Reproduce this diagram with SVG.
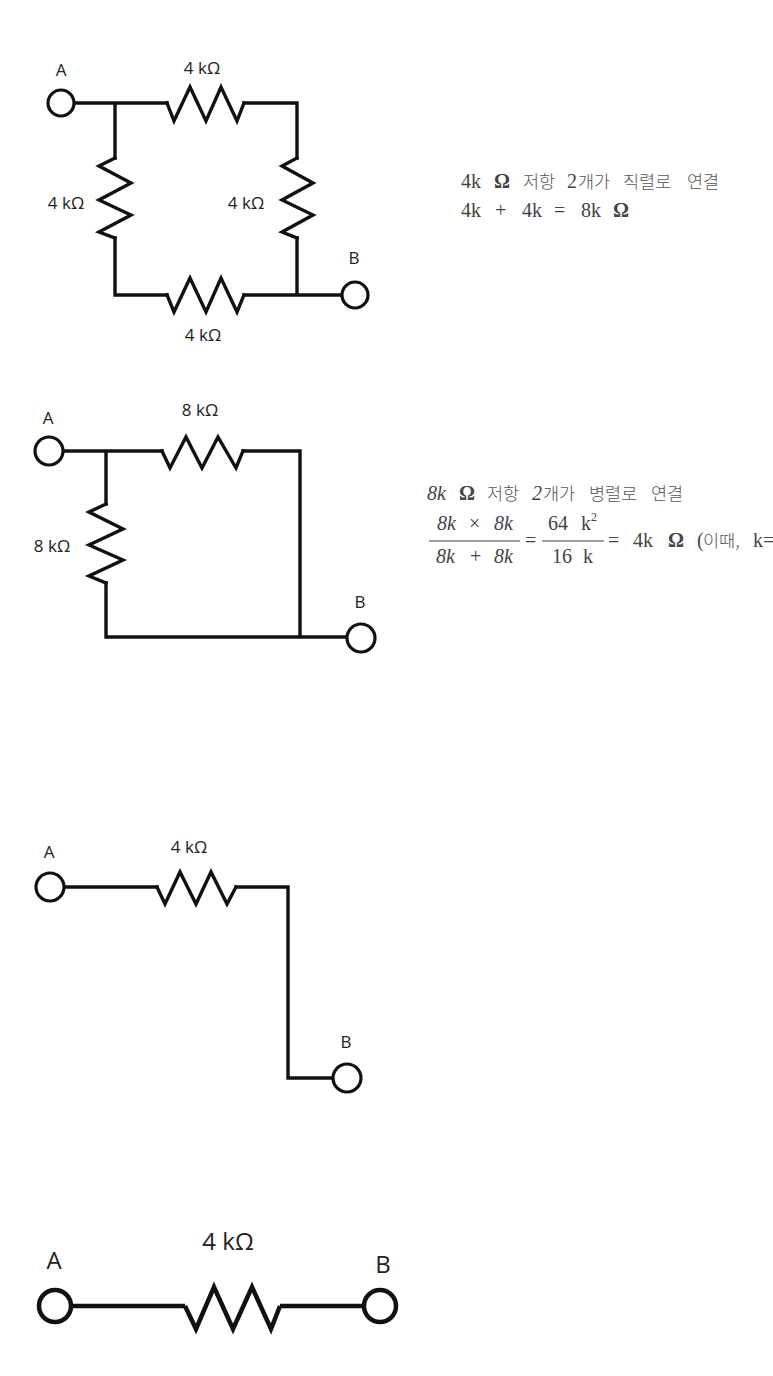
<svg xmlns="http://www.w3.org/2000/svg" width="773" height="1376" viewBox="0 0 773 1376">
<style>
.w{fill:none;stroke:#111;stroke-width:3.4;stroke-linejoin:miter;stroke-linecap:square}
.w4{fill:none;stroke:#111;stroke-width:4.5;stroke-linejoin:miter;stroke-linecap:butt}
.t{fill:#fff;stroke:#111;stroke-width:3.2}
.t4{fill:#fff;stroke:#111;stroke-width:4.5}
.l{font-family:"Open Sans","Noto Sans",sans-serif;font-size:17px;fill:#222;text-anchor:middle}
.l2{font-family:"Open Sans","Noto Sans",sans-serif;font-size:24px;fill:#222;text-anchor:middle}
.m{font-family:"Liberation Serif","Noto Sans CJK KR",serif;font-size:20px;fill:#444}
.k{font-family:"Noto Sans CJK KR",sans-serif;font-size:17.5px;font-weight:300;fill:#555}
.i{font-style:italic}
.b{font-weight:bold}
.bar{stroke:#444;stroke-width:1.2}
</style>
<rect width="773" height="1376" fill="#fff"/>
<g id="connectors">
<path class="w" d="M74 103H167M115 103V158M244 103H297V158M297 238V295M115 238V295H167M244 295H342"/>
<path class="w" d="M63 451H162M106 451V504M243 451H300V637M106 583V637H347"/>
<path class="w" d="M64 887H157M236 887H288V1078H333"/>
<path class="w4" d="M71 1306H185M280 1306H364"/>
</g>
<g id="c1-A"><circle class="t" cx="61" cy="103" r="13"/><text class="l" x="61" y="76">A</text></g>
<g id="c1-B"><circle class="t" cx="355" cy="295" r="13"/><text class="l" x="354" y="264">B</text></g>
<g id="c1-R-top"><polyline class="w" points="167,103 174,121 190,87 206,121 221,87 237,121 244,103"/><text class="l" x="202" y="74">4 kΩ</text></g>
<g id="c1-R-left"><polyline class="w" points="115,158 99,166 131,183 99,200 131,215 99,232 115,238"/><text class="l" x="66" y="209">4 kΩ</text></g>
<g id="c1-R-right"><polyline class="w" points="297,158 282,166 313,183 282,200 313,215 282,232 297,238"/><text class="l" x="246" y="209">4 kΩ</text></g>
<g id="c1-R-bottom"><polyline class="w" points="167,295 174,312 190,278 206,312 221,278 237,312 244,295"/><text class="l" x="203" y="341">4 kΩ</text></g>
<g id="c2-A"><circle class="t" cx="49" cy="451" r="14"/><text class="l" x="48" y="424">A</text></g>
<g id="c2-B"><circle class="t" cx="361" cy="638" r="14"/><text class="l" x="360" y="608">B</text></g>
<g id="c2-R-top"><polyline class="w" points="162,451 170,468 186,437 202,468 218,437 236,468 243,451"/><text class="l" x="200" y="416">8 kΩ</text></g>
<g id="c2-R-left"><polyline class="w" points="106,504 89,512 123,529 89,545 123,560 89,576 106,583"/><text class="l" x="52" y="552">8 kΩ</text></g>
<g id="c3-A"><circle class="t" cx="50" cy="887" r="14"/><text class="l" x="49" y="858">A</text></g>
<g id="c3-B"><circle class="t" cx="347" cy="1078" r="14"/><text class="l" x="346" y="1048">B</text></g>
<g id="c3-R"><polyline class="w" points="157,887 165,904 180,872 196,904 211,872 227,904 236,887"/><text class="l" x="189" y="853">4 kΩ</text></g>
<g id="c4-A"><circle class="t4" cx="55" cy="1306" r="16"/><text class="l2" x="54" y="1269">A</text></g>
<g id="c4-B"><circle class="t4" cx="380" cy="1306" r="16"/><text class="l2" x="383" y="1273">B</text></g>
<g id="c4-R"><polyline class="w4" points="185,1306 196,1329 214,1287 233,1329 252,1287 271,1329 280,1306"/><text class="l2" x="228" y="1250">4 kΩ</text></g>
<g id="note-1">
<text class="m" y="188"><tspan x="461">4k</tspan><tspan x="494" class="b">Ω</tspan><tspan x="523" class="k">저항</tspan><tspan x="567">2</tspan><tspan x="578" class="k">개가</tspan><tspan x="623" class="k">직렬로</tspan><tspan x="687" class="k">연결</tspan></text>
<text class="m" y="217"><tspan x="461">4k</tspan><tspan x="495">+</tspan><tspan x="522">4k</tspan><tspan x="554">=</tspan><tspan x="581">8k</tspan><tspan x="613" class="b">Ω</tspan></text>
</g>
<g id="note-2">
<text class="m" y="500"><tspan x="427" class="i">8k</tspan><tspan x="459" class="b">Ω</tspan><tspan x="487" class="k">저항</tspan><tspan x="532" class="i">2</tspan><tspan x="543" class="k">개가</tspan><tspan x="589" class="k">병렬로</tspan><tspan x="651" class="k">연결</tspan></text>
<text class="m" y="530"><tspan x="437" class="i">8k</tspan><tspan x="469">×</tspan><tspan x="494" class="i">8k</tspan></text>
<line class="bar" x1="429" y1="541" x2="520" y2="541"/>
<text class="m" y="563"><tspan x="436" class="i">8k</tspan><tspan x="470">+</tspan><tspan x="494" class="i">8k</tspan></text>
<text class="m" y="547" x="525">=</text>
<text class="m" y="530"><tspan x="548">64</tspan><tspan x="581">k</tspan></text>
<text class="m" y="521" x="591" style="font-size:12px">2</text>
<line class="bar" x1="542" y1="541" x2="604" y2="541"/>
<text class="m" y="563"><tspan x="552">16</tspan><tspan x="583">k</tspan></text>
<text class="m" y="547"><tspan x="608">=</tspan><tspan x="633">4k</tspan><tspan x="668" class="b">Ω</tspan><tspan x="697">(</tspan><tspan x="703" class="k">이때,</tspan><tspan x="753">k=</tspan></text>
</g>
</svg>
